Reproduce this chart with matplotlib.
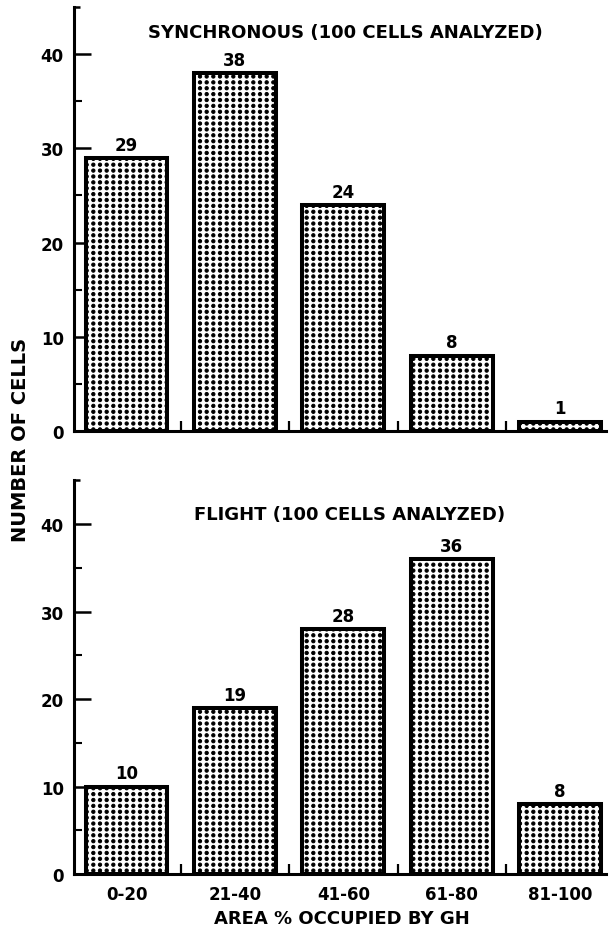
import matplotlib
matplotlib.use("Agg")
import numpy as np
import matplotlib.pyplot as plt
from matplotlib import hatch as mhatch
from matplotlib.path import Path
from matplotlib.ticker import FixedLocator

categories = ["0-20", "21-40", "41-60", "61-80", "81-100"]
sync_values = [29, 38, 24, 8, 1]
flight_values = [10, 19, 28, 36, 8]
sync_title = "SYNCHRONOUS (100 CELLS ANALYZED)"
flight_title = "FLIGHT (100 CELLS ANALYZED)"
x_label = "AREA % OCCUPIED BY GH"
y_label = "NUMBER OF CELLS"
y_ticks = [0, 10, 20, 30, 40]
y_minor = [5, 15, 25, 35]


class GridDots(mhatch.HatchPatternBase):
    """Square grid of filled dots (screen-tone look)."""
    def __init__(self, hatch, density):
        n = hatch.count('.')
        self.ncols = 15 if n else 0
        self.nrows = 17 if n else 0
        circ = Path.unit_circle()
        self.shape_vertices = circ.vertices
        self.shape_codes = circ.codes
        self.num_shapes = (self.ncols + 1) * (self.nrows + 1) if n else 0
        self.num_vertices = self.num_shapes * len(self.shape_vertices)

    def set_vertices_and_codes(self, vertices, codes):
        sv = self.shape_vertices * 0.0165
        pv, pc = [], []
        for i in range(self.nrows + 1):
            for j in range(self.ncols + 1):
                pv.append(sv + [j / self.ncols, i / self.nrows])
                pc.append(self.shape_codes)
        np.concatenate(pv, out=vertices)
        np.concatenate(pc, out=codes)


mhatch._hatch_types = [GridDots if c is mhatch.SmallFilledCircles else c
                       for c in mhatch._hatch_types]

plt.rcParams['font.family'] = ['DejaVu Sans']
plt.rcParams['font.weight'] = 'bold'
plt.rcParams['hatch.linewidth'] = 0.7
plt.rcParams['hatch.color'] = 'black'

fig = plt.figure(figsize=(6.1, 9.29), dpi=100)
ax1 = fig.add_axes([0.1205, 0.535, 0.8795, 0.4564])
ax2 = fig.add_axes([0.1205, 0.0581, 0.8795, 0.4238])


def draw(ax, values, title, tx, ty, show_labels):
    x = list(range(len(categories)))
    ax.bar(x, values, width=0.756, color='white', edgecolor='black',
           linewidth=2.9, hatch='.', zorder=2)
    for xi, v in zip(x, values):
        ax.annotate(str(v), (xi, v), xytext=(0, 3), textcoords='offset points',
                    ha='center', va='bottom', fontsize=12, fontweight='bold')
    ax.set_xlim(-0.489, 4.46)
    ax.set_ylim(0, 45)
    ax.spines['top'].set_visible(False)
    ax.spines['right'].set_visible(False)
    ax.spines['left'].set_linewidth(2.2)
    ax.spines['bottom'].set_linewidth(2.2)
    ax.spines['bottom'].set_bounds(-0.489, 4.42)
    ax.plot([0, 0.012], [1, 1], transform=ax.transAxes, color='black',
            lw=1.8, clip_on=False, solid_capstyle='butt')
    ax.set_yticks(y_ticks)
    ax.yaxis.set_minor_locator(FixedLocator(y_minor))
    ax.tick_params(axis='y', which='major', direction='in', length=12, width=1.8,
                   labelsize=12, pad=7)
    ax.tick_params(axis='y', which='minor', direction='in', length=6, width=1.5)
    ax.set_xticks(x)
    ax.xaxis.set_minor_locator(FixedLocator([0.5, 1.5, 2.5, 3.5]))
    ax.tick_params(axis='x', which='major', length=0, labelsize=12, pad=8)
    ax.tick_params(axis='x', which='minor', direction='in', length=7, width=1.6)
    if show_labels:
        ax.set_xticklabels(categories, fontweight='bold')
    else:
        ax.set_xticklabels([])
    for lab in ax.get_yticklabels():
        lab.set_fontweight('bold')
    ax.text(tx, ty, title, transform=ax.transAxes, ha='center', va='center',
            fontsize=13, fontweight='bold')


draw(ax1, sync_values, sync_title, 0.506, 0.941, False)
draw(ax2, flight_values, flight_title, 0.515, 0.914, True)
ax2.set_xlabel(x_label, fontsize=13, fontweight='bold', labelpad=4)
fig.text(0.034, 0.526, y_label, rotation=90, ha='center', va='center',
         fontsize=14, fontweight='bold')

fig.savefig("out.png", dpi=100)
